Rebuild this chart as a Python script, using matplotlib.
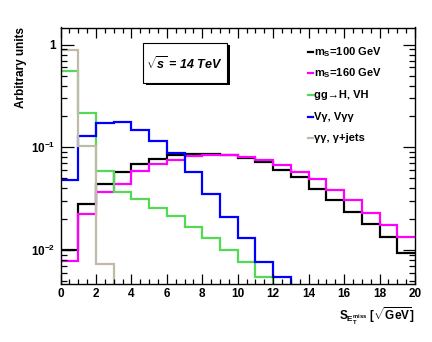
#!/usr/bin/env python3
"""
Missing-ET significance for signal and background samples (log scale),
redrawn in a ROOT-like style.
"""
import numpy as np
import matplotlib
matplotlib.use("Agg")
import matplotlib.pyplot as plt
from matplotlib.lines import Line2D
from matplotlib.patches import Rectangle
from matplotlib.ticker import FixedLocator, FixedFormatter, MultipleLocator

# bin edges: 20 bins of width 1 from 0 to 20
edges = np.arange(0, 21, 1)

ms100 = [0.0099, 0.0281, 0.044, 0.0573, 0.069, 0.0773, 0.0851, 0.087, 0.087, 0.084,
         0.0795, 0.0717, 0.0604, 0.052, 0.0394, 0.0307, 0.0236, 0.0178, 0.0135, 0.0093]
ms160 = [0.0078, 0.0223, 0.0366, 0.0438, 0.0594, 0.069, 0.0755, 0.0832, 0.0846, 0.085,
         0.080, 0.0755, 0.0675, 0.0573, 0.0493, 0.0385, 0.0307, 0.0228, 0.0175, 0.0135]
ggH = [0.557, 0.216, 0.0594, 0.0366, 0.0311, 0.0258, 0.0215, 0.0168, 0.0132, 0.0101,
       0.0076, 0.0055, 0, 0, 0, 0, 0, 0, 0, 0]
vgamma = [0.048, 0.130, 0.172, 0.175, 0.146, 0.115, 0.0878, 0.0577, 0.0349, 0.0211,
          0.0130, 0.0077, 0.0055, 0, 0, 0, 0, 0, 0, 0]
gamjets = [0.88, 0.104, 0.0073, 0, 0, 0, 0, 0, 0, 0,
           0, 0, 0, 0, 0, 0, 0, 0, 0, 0]

labels = ["m$_{S}$=100 GeV", "m$_{S}$=160 GeV", "gg\u2192H, VH",
          "V\u03b3, V\u03b3\u03b3", "\u03b3\u03b3, \u03b3+jets"]
colors = ["black", "#ff00ff", "#55d855", "#0000ff", "#c0bba9"]
series = [ms100, ms160, ggH, vgamma, gamjets]

plt.rcParams["font.family"] = ["Liberation Sans", "DejaVu Sans"]
plt.rcParams["font.weight"] = "bold"
plt.rcParams["mathtext.fontset"] = "custom"
plt.rcParams["mathtext.rm"] = "Liberation Sans:bold"
plt.rcParams["mathtext.bf"] = "Liberation Sans:bold"
plt.rcParams["mathtext.it"] = "Liberation Sans:bold:italic"
plt.rcParams["mathtext.default"] = "rm"

W, H = 432, 342
fig = plt.figure(figsize=(W / 100, H / 100), dpi=100)
ax = fig.add_axes([60.5 / W, 1 - 283.7 / H, (415 - 60.5) / W, (283.7 - 27.5) / H])

ymin, ymax = 0.0047, 1.47
for vals, c in zip(series, colors):
    v = np.asarray(vals, dtype=float)
    # empty bins sit below the axis floor on a log scale
    v = np.where(v > 0, v, 1e-6)
    ax.stairs(v, edges, color=c, lw=1.6, baseline=None)

ax.set_yscale("log")
ax.set_xlim(0, 20)
ax.set_ylim(ymin, ymax)

# ROOT-like ticks, inside on all sides
ax.xaxis.set_major_locator(MultipleLocator(2))
ax.xaxis.set_minor_locator(MultipleLocator(0.5))
ax.yaxis.set_major_locator(FixedLocator([0.01, 0.1, 1]))
ax.yaxis.set_major_formatter(FixedFormatter([r"$10^{-2}$", r"$10^{-1}$", "1"]))
ax.tick_params(which="both", direction="in", top=True, right=True,
               labelsize=8.5, width=0.9)
ax.tick_params(which="major", length=7)
ax.tick_params(which="minor", length=3.5)
ax.tick_params(axis="y", which="major", length=9)
ax.tick_params(axis="y", which="minor", length=4.5)
ax.tick_params(axis="x", pad=3)
for lab in ax.get_xticklabels() + ax.get_yticklabels():
    lab.set_fontweight("bold")
for s in ax.spines.values():
    s.set_linewidth(1.0)
    s.set_zorder(5)

ax.set_ylabel("Arbitrary units", fontsize=8.5, fontweight="bold", loc="top")
ax.yaxis.set_label_coords(-0.095, 1.0)
ax.set_xlabel(r"S$_{\mathrm{E}_{\mathrm{T}}^{\mathrm{miss}}}$ [$\sqrt{\mathrm{GeV}}$]",
              fontsize=8.5, fontweight="bold", loc="right")
ax.xaxis.set_label_coords(1.0, -0.085)

# legend drawn by hand: short line + label
leg_y = [51.7, 73.3, 95.0, 116.5, 138.0]
for lab, c, yp in zip(labels, colors, leg_y):
    yf = 1 - yp / H
    fig.add_artist(Line2D([307.5 / W, 313 / W], [yf, yf], color=c, lw=1.6,
                          transform=fig.transFigure))
    fig.text(314 / W, yf, lab, fontsize=8, fontweight="bold",
             ha="left", va="center")

# energy box with shadow
bx0, bx1, by0, by1 = 142.7, 226.5, 42.7, 82.7
fig.add_artist(Rectangle(((bx0 + 3) / W, 1 - (by1 + 2.5) / H),
                         (bx1 - bx0) / W, (by1 - by0) / H,
                         transform=fig.transFigure, facecolor="black",
                         edgecolor="none"))
fig.add_artist(Rectangle((bx0 / W, 1 - by1 / H), (bx1 - bx0) / W, (by1 - by0) / H,
                         transform=fig.transFigure, facecolor="white",
                         edgecolor="black", lw=0.8))
fig.text((bx0 + bx1) / 2 / W, 1 - 63.5 / H, r"$\sqrt{\mathit{s}}$ = 14 TeV",
         fontsize=9, fontweight="bold", style="italic", ha="center", va="center")

fig.savefig("out.png", dpi=100)
